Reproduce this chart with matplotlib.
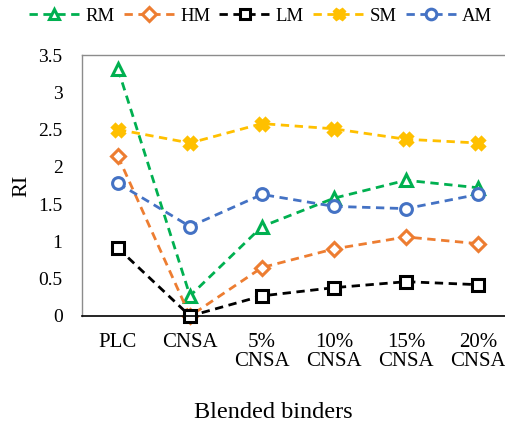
import matplotlib.pyplot as plt
import numpy as np

plt.rcParams["font.family"] = ["Liberation Serif", "DejaVu Serif"]

binders = ["PLC", "CNSA", "5%\nCNSA", "10%\nCNSA", "15%\nCNSA", "20%\nCNSA"]

rm = [3.31, 0.27, 1.20, 1.58, 1.82, 1.72]
hm = [2.14, 0.00, 0.65, 0.90, 1.06, 0.97]
lm = [0.91, 0.00, 0.27, 0.38, 0.46, 0.42]
sm = [2.50, 2.32, 2.58, 2.51, 2.37, 2.32]
am = [1.78, 1.20, 1.63, 1.47, 1.44, 1.63]

STYLES = [
    ("RM", rm, "#00B050", "^", "white"),
    ("HM", hm, "#ED7D31", "D", "white"),
    ("LM", lm, "black", "s", "white"),
    ("SM", sm, "#FFC000", "X", "#FFC000"),
    ("AM", am, "#4472C4", "o", "white"),
]

fig = plt.figure(figsize=(5.06, 4.28), dpi=100)
ax = fig.add_axes([82 / 506, 1 - 316 / 428, 432 / 506, 261 / 428])

x = np.arange(len(binders))
for name, vals, color, marker, face in STYLES:
    ms = 7.5 if marker == "D" else 8.5
    ax.plot(x, vals, linestyle=(0, (3, 2)), linewidth=2, color=color,
            marker=marker, markersize=ms, markerfacecolor=face,
            markeredgecolor=color, markeredgewidth=2.2, label=name,
            clip_on=False)

ax.set_xlim(-0.5, len(binders) - 0.5)
ax.set_ylim(0, 3.5)
ax.set_yticks(np.arange(0, 3.51, 0.5))
ax.set_yticklabels(["0", "0.5", "1", "1.5", "2", "2.5", "3", "3.5"])
ax.set_xticks(x)
ax.set_xticklabels(binders, linespacing=1.0)
ax.tick_params(axis="both", length=0)
ax.tick_params(axis="y", pad=14, labelsize=14)
ax.tick_params(axis="x", pad=12, labelsize=15)

for side in ("top", "left", "right"):
    ax.spines[side].set_color("#8C8C8C")
    ax.spines[side].set_linewidth(1)
ax.spines["bottom"].set_color("black")
ax.spines["bottom"].set_linewidth(1.2)

ax.set_ylabel("RI", fontsize=16, va="center")
ax.yaxis.set_label_coords((22 - 82) / 432, 0.5)
fig.text(273 / 506, 1 - 413 / 428, "Blended binders", fontsize=17.5,
         ha="center", va="center")

fig.legend(loc="upper center", bbox_to_anchor=(0.515, 1.013), ncol=5,
           frameon=False, fontsize=13.5, handlelength=2.7, handletextpad=0.3,
           columnspacing=0.5, borderpad=0.2, markerscale=0.9)

fig.savefig("out.png", dpi=100)
